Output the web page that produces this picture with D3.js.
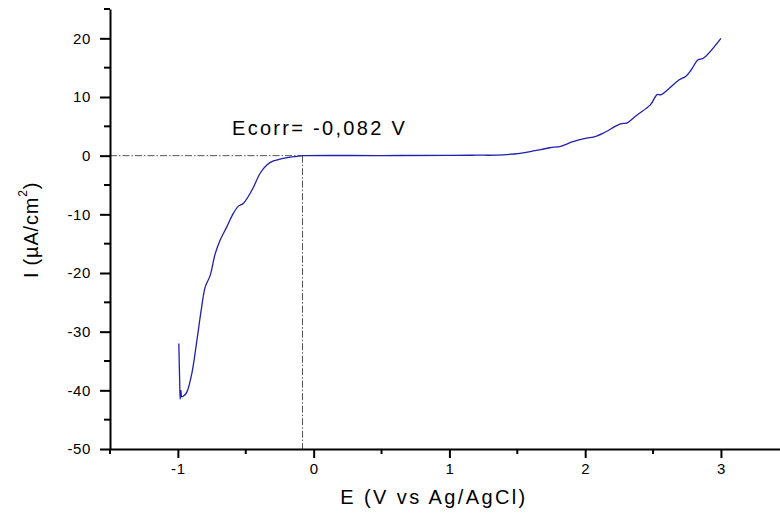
<!DOCTYPE html>
<html>
<head>
<meta charset="utf-8">
<script src="https://cdn.jsdelivr.net/npm/d3@7"></script>
<style>
  body { margin: 0; background: #fff; }
  svg { font-family: Arial, 'Liberation Sans', sans-serif; }
</style>
</head>
<body>
<svg id="chart" width="780" height="515"></svg>
<script>
// potential (V vs Ag/AgCl)
const potential = [
  -0.993, -0.987, -0.983, -0.978, -0.971, -0.954, -0.934, -0.897, -0.860, -0.828,
  -0.799, -0.762, -0.725, -0.689, -0.639, -0.591, -0.554, -0.517, -0.455, -0.394,
  -0.345, -0.296, -0.197, -0.099, -0.075, 0.5, 1.0, 1.2, 1.35, 1.52,
  1.62, 1.74, 1.82, 1.91, 2.01, 2.06, 2.13, 2.26, 2.31, 2.38,
  2.48, 2.53, 2.56, 2.69, 2.74, 2.78, 2.83, 2.87, 3.0
]
// current density (uA/cm2)
const current = [
  -32.0, -38.3, -41.5, -40.0, -41.1, -40.9, -40.3, -37.1, -31.5, -26.3,
  -22.4, -20.4, -16.7, -14.4, -12.1, -9.8, -8.6, -8.1, -5.9, -3.0,
  -1.6, -0.9, -0.34, -0.05, 0, 0.02, 0.05, 0.08, 0.1, 0.4,
  0.8, 1.35, 1.6, 2.4, 3.0, 3.15, 3.8, 5.4, 5.6, 6.9,
  8.65, 10.4, 10.4, 12.9, 13.5, 14.6, 16.3, 16.6, 20.0
]
const xTicks = [-1, 0, 1, 2, 3]
const yTicks = [-50, -40, -30, -20, -10, 0, 10, 20]
const ecorr = -0.082
const ecorrLabel = 'Ecorr= -0,082 V'

const svg = d3.select('#chart')
const xScale = d3.scaleLinear().domain([-1.5, 3.435]).range([110, 780])
const yScale = d3.scaleLinear().domain([-50, 25]).range([449, 9])

const data = potential.map((e, i) => ({ e: e, i: current[i] }))

// 坐标轴
function axes() {
  const xAxis = svg.append('g').attr('transform', `translate(0,${yScale(-50)})`)
  xAxis.call(d3.axisBottom(xScale).tickValues(xTicks).tickSize(9).tickSizeOuter(0).tickPadding(5)
    .tickFormat(d => String(d)))
  xAxis.append('g').selectAll('line')
    .data([-1.5, -0.5, 0.5, 1.5, 2.5])
    .join('line')
    .attr('x1', d => xScale(d)).attr('x2', d => xScale(d))
    .attr('y1', 0).attr('y2', 5)
    .attr('stroke', '#000').attr('stroke-width', 2)

  const yAxis = svg.append('g').attr('transform', `translate(${xScale(-1.5)},0)`)
  yAxis.call(d3.axisLeft(yScale).tickValues(yTicks).tickSize(10).tickSizeOuter(0).tickPadding(9)
    .tickFormat(d => String(d)))
  yAxis.append('g').selectAll('line')
    .data([-45, -35, -25, -15, -5, 5, 15, 25])
    .join('line')
    .attr('x1', 0).attr('x2', -6)
    .attr('y1', d => yScale(d)).attr('y2', d => yScale(d))
    .attr('stroke', '#000').attr('stroke-width', 2)

  svg.selectAll('.domain').attr('stroke', '#000').attr('stroke-width', 2)
  svg.selectAll('.tick line').attr('stroke', '#000').attr('stroke-width', 2)
  svg.selectAll('.tick text')
    .attr('font-size', 15).attr('fill', '#000')
    .style('letter-spacing', '0.6px')
    .style('font-family', 'Arial, "Liberation Sans", sans-serif')
}

function labels() {
  svg.append('text')
    .attr('x', 434).attr('y', 504)
    .attr('text-anchor', 'middle')
    .attr('font-size', 20)
    .style('letter-spacing', '2.4px')
    .text('E (V vs Ag/AgCl)')

  const yl = svg.append('text')
    .attr('transform', 'translate(38,230) rotate(-90)')
    .attr('text-anchor', 'middle')
    .attr('font-size', 20)
    .style('letter-spacing', '0.8px')
  yl.append('tspan').text('I (µA/cm')
  yl.append('tspan').attr('font-size', 12).attr('dy', -11).text('2')
  yl.append('tspan').attr('dy', 11).text(')')

  svg.append('text')
    .attr('x', 232).attr('y', 135)
    .attr('font-size', 20)
    .style('letter-spacing', '2.3px')
    .text(ecorrLabel)
}

// Ecorr 辅助线
function guides() {
  const dash = '7,2,1.5,2'
  svg.append('line')
    .attr('x1', xScale(-1.5)).attr('x2', xScale(ecorr))
    .attr('y1', yScale(0)).attr('y2', yScale(0))
    .attr('stroke', '#555').attr('stroke-width', 1).attr('stroke-dasharray', dash)
  svg.append('line')
    .attr('x1', xScale(ecorr)).attr('x2', xScale(ecorr))
    .attr('y1', yScale(0)).attr('y2', yScale(-50))
    .attr('stroke', '#555').attr('stroke-width', 1).attr('stroke-dasharray', dash)
}

function curve() {
  const line = d3.line()
    .x(d => xScale(d.e))
    .y(d => yScale(d.i))
    .curve(d3.curveCatmullRom.alpha(0.5))
  svg.append('path')
    .datum(data)
    .attr('d', line)
    .attr('fill', 'none')
    .attr('stroke', '#1f1fb0')
    .attr('stroke-width', 1.3)
}

guides()
curve()
axes()
labels()
</script>
</body>
</html>
